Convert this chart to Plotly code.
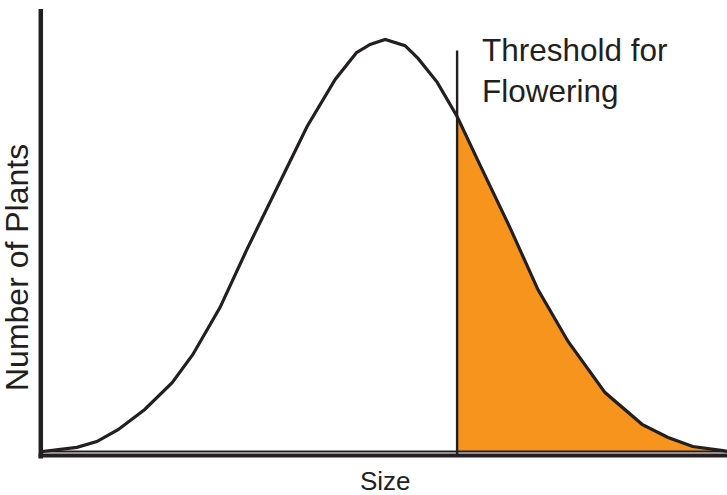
import numpy as np
import plotly.graph_objects as go

# Data (arbitrary units)
size = [0, 5.1, 8.0, 11.1, 15.0, 19.0, 22.0, 26.0, 29.9, 33.3, 38.7, 42.8, 45.9, 47.9,
        50.1, 53.0, 54.9, 57.7, 60.6, 63.9, 68.3, 72.4, 76.8, 82.2, 87.6, 91.4, 95.0,
        99.4, 100]
plants = [0, 1.0, 2.4, 5.3, 10.2, 16.7, 23.5, 35.0, 49.0, 60.7, 78.9, 90.3, 96.8, 98.8,
          100, 98.5, 95.4, 89.6, 81.3, 69.7, 54.4, 39.3, 26.7, 14.3, 6.6, 3.4, 1.2,
          0.2, 0]
threshold = 60.6
threshold_top = 97.3

INK = "#231f20"
ORANGE = "#f7941e"
FONT = "Liberation Sans, Arial, Helvetica, sans-serif"

sx = np.array(size)
sy = np.array(plants)
mask = sx >= threshold

fig = go.Figure()
# orange area above threshold
fig.add_trace(go.Scatter(x=sx[mask], y=sy[mask], mode="lines", fill="tozeroy",
                         fillcolor=ORANGE, line=dict(width=0, color=ORANGE),
                         hoverinfo="skip", showlegend=False))
# baseline
fig.add_trace(go.Scatter(x=[size[0], size[-1]], y=[0, 0], mode="lines",
                         line=dict(color=INK, width=2), hoverinfo="skip",
                         showlegend=False))
# curve
fig.add_trace(go.Scatter(x=size, y=plants, mode="lines",
                         line=dict(color=INK, width=3.2), showlegend=False))
# threshold line
fig.add_trace(go.Scatter(x=[threshold, threshold], y=[-1.0, threshold_top], mode="lines",
                         line=dict(color=INK, width=2.4), showlegend=False))

W, H = 727, 495
L, R, T, B = 42, 0, 9, 39
pw, ph = W - L - R, H - T - B

def px(x):
    return (x - L) / pw

def py(y):
    return (H - B - y) / ph

# axis lines
fig.add_shape(type="line", xref="paper", yref="paper", x0=px(40.8), x1=px(40.8),
              y0=py(9), y1=py(458.5), line=dict(color=INK, width=4.5))
fig.add_shape(type="line", xref="paper", yref="paper", x0=px(38.6), x1=px(727),
              y0=py(455.5), y1=py(455.5), line=dict(color=INK, width=4))

fig.add_annotation(text="Threshold for<br>Flowering", xref="paper", yref="paper",
                   x=px(480), y=py(30), xanchor="left", yanchor="top", align="left",
                   showarrow=False, font=dict(family=FONT, size=31.5, color=INK))
fig.add_annotation(text="Size", xref="paper", yref="paper", x=px(385), y=py(480.5),
                   xanchor="center", yanchor="middle", showarrow=False, borderpad=0,
                   font=dict(family=FONT, size=26, color=INK))
fig.add_annotation(text="Number of Plants", xref="paper", yref="paper", x=px(17),
                   y=py(268), xanchor="center", yanchor="middle", textangle=-90,
                   showarrow=False, borderpad=0,
                   font=dict(family=FONT, size=32, color=INK))

fig.update_xaxes(range=[0, 100], visible=False, fixedrange=True)
fig.update_yaxes(range=[-(H - B - 451.5) / 4.12, (451.5 - T) / 4.12], visible=False,
                 fixedrange=True)
fig.update_layout(width=W, height=H, margin=dict(l=L, r=R, t=T, b=B, pad=0),
                  plot_bgcolor="white", paper_bgcolor="white", showlegend=False)

fig.write_html("out.html", config={"displayModeBar": False},
               post_script="document.body.style.margin='0';document.body.style.overflow='hidden';")
